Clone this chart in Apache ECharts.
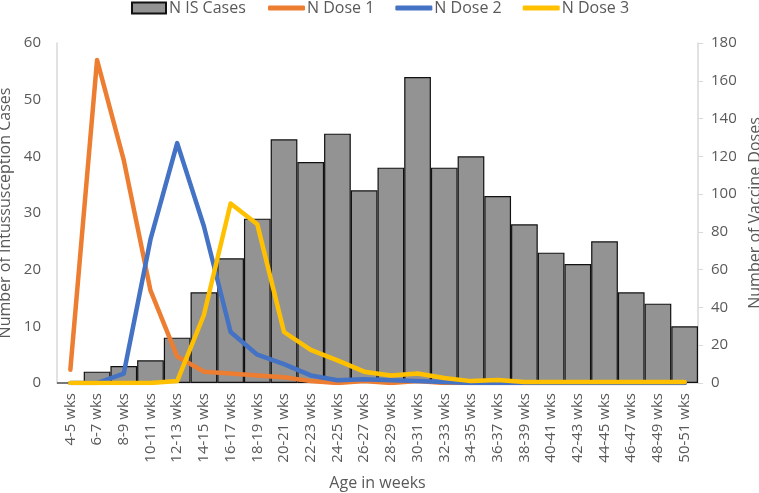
<!DOCTYPE html>
<html><head><meta charset="utf-8">
<script src="https://cdn.jsdelivr.net/npm/echarts@6/dist/echarts.min.js"></script>
<style>html,body{margin:0;padding:0;background:#fff}#c{width:759px;height:493px}</style>
</head><body><div id="c"></div>
<script>
const categories = ["4-5 wks","6-7 wks","8-9 wks","10-11 wks","12-13 wks","14-15 wks","16-17 wks","18-19 wks","20-21 wks","22-23 wks","24-25 wks","26-27 wks","28-29 wks","30-31 wks","32-33 wks","34-35 wks","36-37 wks","38-39 wks","40-41 wks","42-43 wks","44-45 wks","46-47 wks","48-49 wks","50-51 wks"];
const isCases = [0,2,3,4,8,16,22,29,43,39,44,34,38,54,38,40,33,28,23,21,25,16,14,10];
const dose1 = [7,171,118,49,14,6,5,4,3,1,0,1,0,1,0,0,0,0,0,0,0,0,0,0];
const dose2 = [0,0,5,76,127,83,27,15,10,4,1.5,2,1.5,1,0.5,0,0,0,0,0,0,0,0,0];
const dose3 = [0,0,0,0,1,36,95,84,27,17.5,12,6,4,5,2.6,1,1.6,0.5,0.5,0.5,0.5,0.5,0.5,0.5];
const leftTicks = {min:0,max:60,interval:10};
const rightTicks = {min:0,max:180,interval:20};

const txt = '#595959';
const font = '"Open Sans", sans-serif';
const chart = echarts.init(document.getElementById('c'));
chart.setOption({
  animation:false,
  textStyle:{fontFamily:font},
  legend:[
    {top:-5, left:126, itemWidth:34, itemHeight:11, itemGap:22,
     textStyle:{fontSize:16,color:txt,fontFamily:font,padding:[0,0,0,-2]},
     data:[{name:'N IS Cases', icon:'rect'}]},
    {top:-5, left:263, itemWidth:37, itemHeight:5, itemGap:21,
     textStyle:{fontSize:16,color:txt,fontFamily:font,padding:[0,0,0,-3]},
     data:[{name:'N Dose 1',icon:'roundRect'},{name:'N Dose 2',icon:'roundRect'},{name:'N Dose 3',icon:'roundRect'}]}
  ],
  grid:{left:57,right:61,top:43,bottom:110,containLabel:false,outerBoundsMode:'none'},
  xAxis:{
    type:'category', data:categories,
    name:'Age in weeks', nameLocation:'middle', nameGap:92,
    nameTextStyle:{fontSize:16,color:txt},
    axisLine:{lineStyle:{color:'#d9d9d9',width:1.5}},
    axisTick:{show:false},
    axisLabel:{rotate:90, interval:0, fontSize:15, color:txt, margin:10}
  },
  yAxis:[
    {type:'value', min:leftTicks.min, max:leftTicks.max, interval:leftTicks.interval,
     name:'Number of Intussusception Cases', nameLocation:'middle', nameGap:38,
     nameTextStyle:{fontSize:16,color:txt},
     axisLine:{show:true,lineStyle:{color:'#d9d9d9',width:1.5}},
     axisTick:{show:false}, splitLine:{show:false},
     axisLabel:{fontSize:15,color:txt,margin:16}},
    {type:'value', min:rightTicks.min, max:rightTicks.max, interval:rightTicks.interval,
     name:'Number of Vaccine Doses', nameLocation:'middle', nameGap:41,
     nameTextStyle:{fontSize:16,color:txt},
     axisLine:{show:true,lineStyle:{color:'#d9d9d9',width:1.5}},
     axisTick:{show:true,length:5,lineStyle:{color:'#d9d9d9'}}, splitLine:{show:false},
     axisLabel:{fontSize:15,color:txt,margin:13}}
  ],
  series:[
    {name:'N IS Cases', type:'bar', data:isCases, yAxisIndex:0, barCategoryGap:'0%',
     itemStyle:{color:'#939393',borderColor:'#111',borderWidth:1.2}},
    {name:'N Dose 1', type:'line', data:dose1, yAxisIndex:1, symbol:'none',
     lineStyle:{color:'#ED7D31',width:4.5,cap:'round',join:'round'}, itemStyle:{color:'#ED7D31'}},
    {name:'N Dose 2', type:'line', data:dose2, yAxisIndex:1, symbol:'none',
     lineStyle:{color:'#4472C4',width:4.5,cap:'round',join:'round'}, itemStyle:{color:'#4472C4'}},
    {name:'N Dose 3', type:'line', data:dose3, yAxisIndex:1, symbol:'none',
     lineStyle:{color:'#FFC000',width:4.5,cap:'round',join:'round'}, itemStyle:{color:'#FFC000'}}
  ]
});
</script></body></html>
